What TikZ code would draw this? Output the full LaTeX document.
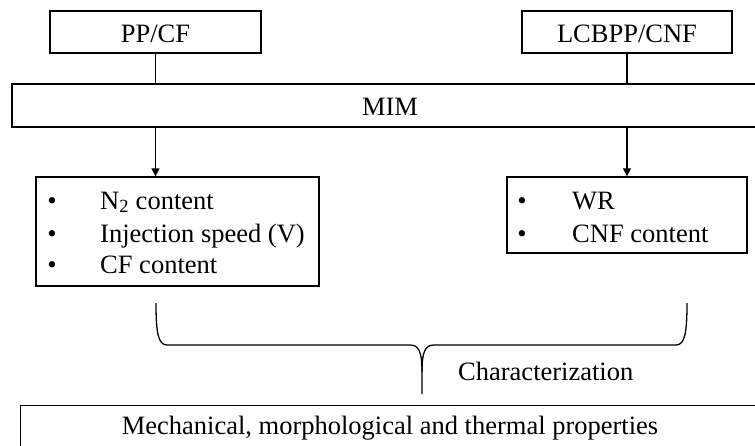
\documentclass[tikz,border=0pt]{standalone}
\usepackage{fontspec}
\setmainfont{Liberation Serif}
\usetikzlibrary{arrows.meta}
\begin{document}
\begin{tikzpicture}[x=1pt,y=-1pt,
  box/.style={draw, line width=1.3pt, inner sep=0pt, minimum width=#1},
  txt/.style={inner sep=0pt, font=\fontsize{26.5}{32}\selectfont},
  link/.style={line width=1.3pt},
  arr/.style={line width=1.3pt, -{Triangle[width=8pt,length=8pt]}},
  bracepath/.style={line width=1.3pt, line join=round}
]
\clip (0,0) rectangle (755,445);

% source materials
\node[box=211pt, minimum height=42pt] (ppcf) at (155.5,32) {};
\node[txt, anchor=base] (ppcft) at (155.5,42) {PP/CF};
\node[box=210pt, minimum height=42pt] (lcb) at (627,32) {};
\node[txt, anchor=base] (lcbt) at (627,42) {LCBPP/CNF};

% moulding step
\node[box=763pt, minimum height=43pt] (mim) at (393.5,105.5) {};
\node[txt, anchor=base] (mimt) at (390,115) {MIM};

% parameter boxes
\node[box=283pt, minimum height=109pt] (lbox) at (177.5,231.5) {};
\node[txt, anchor=base] (lb1) at (52,209) {\textbullet};
\node[txt, anchor=base west] (lt1) at (100,209) {N\textsubscript{2} content};
\node[txt, anchor=base] (lb2) at (52,242) {\textbullet};
\node[txt, anchor=base west] (lt2) at (100,242) {Injection speed (V)};
\node[txt, anchor=base] (lb3) at (52,273) {\textbullet};
\node[txt, anchor=base west] (lt3) at (100,273) {CF content};

\node[box=240pt, minimum height=76pt] (rbox) at (627,215) {};
\node[txt, anchor=base] (rb1) at (522,209) {\textbullet};
\node[txt, anchor=base west] (rt1) at (572,209) {WR};
\node[txt, anchor=base] (rb2) at (522,242) {\textbullet};
\node[txt, anchor=base west] (rt2) at (572,242) {CNF content};

% connectors
\draw[link] (ppcf.south) -- (mim.north -| ppcf.south);
\draw[link] (lcb.south) -- (mim.north -| lcb.south);
\draw[arr] (mim.south -| ppcf.south) -- (lbox.north -| ppcf.south);
\draw[arr] (mim.south -| lcb.south) -- (rbox.north -| lcb.south);

% brace
\coordinate (bl) at (156,303);
\coordinate (br) at (687,303);
\coordinate (tip) at (422,394);
\draw[bracepath] (bl) .. controls (156,332) and (158,345) .. (167,345)
  -- (410,345) .. controls (419,345) and (422,352) .. (422,372) -- (tip);
\draw[bracepath] (br) .. controls (687,332) and (685,345) .. (676,345)
  -- (434,345) .. controls (425,345) and (422,352) .. (422,372);
\node[txt, anchor=base west] (chr) at (458,380) {Characterization};

% properties
\node[box=770pt, minimum height=60pt, anchor=north west] (prop) at (20,405) {};
\node[txt, anchor=base] (propt) at (390,434) {Mechanical, morphological and thermal properties};
\end{tikzpicture}
\end{document}
